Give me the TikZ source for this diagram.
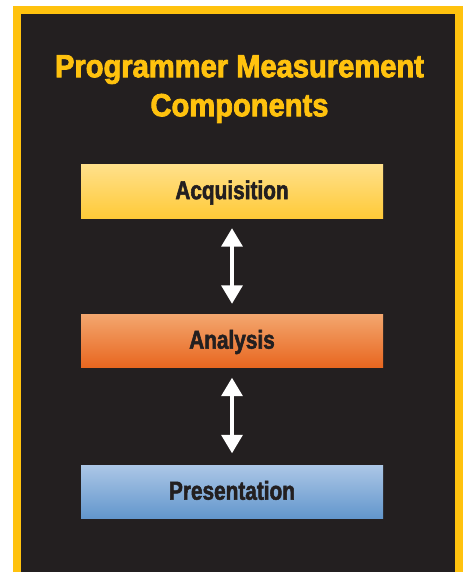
\documentclass[tikz,border=0pt]{standalone}
\usepackage{fontspec}
\usetikzlibrary{arrows.meta}
\newfontfamily\headfont[FakeStretch=0.91,FakeBold=2.5]{Liberation Sans Bold}
\newfontfamily\boxfont[FakeStretch=0.8,FakeBold=2]{Liberation Sans Bold}

\definecolor{frameyellow}{HTML}{FFC20E}
\definecolor{panel}{HTML}{231F20}
\definecolor{acqtop}{HTML}{FFE08A}
\definecolor{acqbot}{HTML}{FFCA38}
\definecolor{anatop}{HTML}{F3A66E}
\definecolor{anabot}{HTML}{E8661F}
\definecolor{pretop}{HTML}{ABC6E6}
\definecolor{prebot}{HTML}{6296CC}

\tikzset{
  stage/.style={rectangle, inner sep=0pt, minimum width=302pt, minimum height=53pt,
    text height=20pt, text depth=4.6pt, text=panel,
    font=\boxfont\fontsize{26}{30}\selectfont},
  dblarrow/.style={draw=white, line width=3.5pt,
    {Triangle[width=21pt,length=18.5pt,fill=white]}-{Triangle[width=21pt,length=18.5pt,fill=white]}},
}

\begin{document}
\begin{tikzpicture}[x=1pt,y=-1pt]
  % page and frame
  \useasboundingbox (0,0) rectangle (464,572);
  \fill[white] (0,0) rectangle (464,572);
  \fill[frameyellow] (13,6) rectangle (463,572);
  \fill[panel] (21,14) rectangle (455,572);

  % heading
  \node[anchor=north, align=center, inner sep=0pt, text=frameyellow,
        font=\headfont\fontsize{32}{39}\selectfont] (title) at (239.5,55)
        {Programmer Measurement\\Components};

  % the three stages
  \node[stage, top color=acqtop, bottom color=acqbot] (acq) at (232,191.5) {Acquisition};
  \node[stage, top color=anatop, bottom color=anabot] (ana) at (232,341) {Analysis};
  \node[stage, top color=pretop, bottom color=prebot] (pre) at (232,492) {Presentation};

  % two-way links between stages
  \draw[dblarrow, shorten <=10pt, shorten >=10.5pt] (acq) -- (ana);
  \draw[dblarrow, shorten <=10pt, shorten >=12pt] (ana) -- (pre);
\end{tikzpicture}
\end{document}
